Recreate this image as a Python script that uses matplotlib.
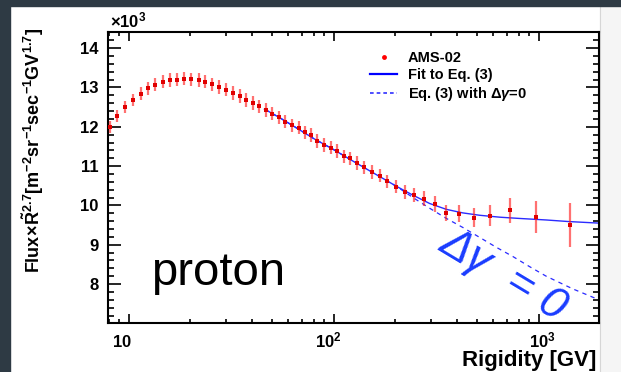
import numpy as np
import matplotlib
matplotlib.use("Agg")
import matplotlib.pyplot as plt
import matplotlib.transforms as mtransforms
from matplotlib.lines import Line2D
from matplotlib.ticker import LogLocator, MultipleLocator, NullFormatter

plt.rcParams["font.family"] = ["Liberation Sans", "DejaVu Sans"]
plt.rcParams["font.weight"] = "bold"
plt.rcParams["mathtext.fontset"] = "custom"
plt.rcParams["mathtext.rm"] = "Liberation Sans"
plt.rcParams["mathtext.bf"] = "Liberation Sans:bold"
plt.rcParams["mathtext.it"] = "Liberation Sans:italic"

# AMS-02 proton flux x R^2.7 (units of 10^3)
rigidity = [8.08, 8.81, 9.61, 10.5, 11.44, 12.42, 13.5, 14.68, 15.94, 17.24,
            18.61, 20.22, 21.95, 23.67, 25.63, 27.73, 29.96, 32.27, 34.79, 37.52,
            40.27, 43.21, 46.6, 50.2, 54.1, 58.1, 62.6, 67.5, 72.6, 77.8,
            83.3, 89.6, 96.7, 104, 112.3, 120.6, 130.2, 140.5, 153.8, 167.7,
            182.4, 202.2, 221.9, 246.4, 274.8, 311, 354.6, 408.5, 481.8, 583,
            727.8, 967, 1428]
flux = [12.00, 12.27, 12.50, 12.68, 12.84, 12.98, 13.07, 13.15, 13.19, 13.20,
        13.22, 13.21, 13.19, 13.15, 13.08, 13.01, 12.94, 12.86, 12.78, 12.68,
        12.60, 12.52, 12.43, 12.33, 12.24, 12.13, 12.04, 11.98, 11.86, 11.79,
        11.64, 11.54, 11.47, 11.38, 11.25, 11.20, 11.08, 10.97, 10.85, 10.76,
        10.61, 10.48, 10.34, 10.26, 10.17, 10.04, 9.81, 9.79, 9.69, 9.74,
        9.88, 9.71, 9.49]
flux_err = [0.15, 0.15, 0.16, 0.16, 0.16, 0.16, 0.17, 0.17, 0.17, 0.17,
            0.17, 0.17, 0.17, 0.17, 0.17, 0.17, 0.17, 0.17, 0.17, 0.17,
            0.17, 0.17, 0.17, 0.17, 0.17, 0.17, 0.17, 0.17, 0.17, 0.17,
            0.17, 0.17, 0.17, 0.17, 0.17, 0.17, 0.17, 0.17, 0.17, 0.17,
            0.17, 0.17, 0.18, 0.18, 0.19, 0.20, 0.21, 0.22, 0.24, 0.27,
            0.32, 0.41, 0.56]

# fit to Eq. (3)
fit_R = [46, 55, 65, 80, 100, 125, 150, 175, 202, 244, 294, 355, 427, 515,
         650, 800, 1090, 1400, 1973]
fit_flux = [12.45, 12.22, 11.99, 11.70, 11.42, 11.12, 10.88, 10.68, 10.49,
            10.26, 10.05, 9.90, 9.81, 9.75, 9.70, 9.67, 9.63, 9.59, 9.55]

# Eq. (3) with delta gamma = 0
nobreak_R = [46, 55, 65, 80, 100, 125, 150, 175, 202, 244, 294, 355, 427,
             515, 620, 750, 900, 1090, 1466, 1973]
nobreak_flux = [12.45, 12.22, 11.99, 11.70, 11.42, 11.12, 10.88, 10.68, 10.49,
                10.20, 9.93, 9.67, 9.44, 9.19, 8.94, 8.70, 8.45, 8.20, 7.88, 7.60]

xtick_vals = [10, 100, 1000]
xtick_text = [r"$\mathbf{10}$", r"$\mathbf{10^{2}}$", r"$\mathbf{10^{3}}$"]
xtick_shift = [-4.7, -4.0, 2.5]  # points
ytick_vals = [8, 9, 10, 11, 12, 13, 14]

W, H = 621, 372
fig = plt.figure(figsize=(W / 100, H / 100), dpi=100)
fig.patch.set_facecolor("white")

# slide background bits around the picture
dark = "#2e3a44"
fig.add_artist(plt.Rectangle((600 / W, 0), 21 / W, 1, transform=fig.transFigure,
                             color="#f5f5f5", zorder=-10))
fig.add_artist(Line2D([600 / W, 600 / W], [0, 1], transform=fig.transFigure,
                      color="#d6d6d6", lw=0.8, zorder=-9))
fig.add_artist(plt.Rectangle((0, 0), 10 / W, 1, transform=fig.transFigure,
                             color=dark, zorder=-8))
fig.add_artist(plt.Rectangle((0, 1 - 6 / H), 1, 6 / H, transform=fig.transFigure,
                             color=dark, zorder=-8))

ax = fig.add_axes([108 / W, 1 - 323 / H, 491 / W, 291 / H])
ax.set_facecolor("none")

ax.errorbar(rigidity, flux, yerr=flux_err, fmt="s", ms=2.3, mew=0, color="#e00000",
            ecolor=(1, 0.1, 0.1, 0.62), elinewidth=1.6, capsize=0, zorder=3)
ax.plot(nobreak_R, nobreak_flux, color="#2b2bff", lw=0.9, ls=(0, (3.5, 3.5)), zorder=2)
ax.plot(fit_R, fit_flux, color="#2b2bff", lw=1.0, zorder=2)

ax.set_xscale("log")
ax.set_xlim(7.93, 1973)
ax.set_ylim(7.01, 14.41)

ax.set_xticks(xtick_vals)
ax.xaxis.set_minor_locator(LogLocator(base=10, subs=np.arange(2, 10)))
ax.xaxis.set_minor_formatter(NullFormatter())
ax.set_xticklabels([])
ax.set_yticks(ytick_vals)
ax.yaxis.set_minor_locator(MultipleLocator(0.2))

for s in ax.spines.values():
    s.set_linewidth(1.5)
ax.tick_params(which="both", direction="in", top=True, right=True, width=1.2,
               colors="black")
ax.tick_params(axis="y", which="major", length=9.4, labelsize=12, pad=7)
ax.tick_params(axis="y", which="minor", length=4.4)
ax.tick_params(axis="x", which="major", length=6.2)
ax.tick_params(axis="x", which="minor", length=3.2)

blend = mtransforms.blended_transform_factory(ax.transData, ax.transAxes)
for xv, txt, dx in zip(xtick_vals, xtick_text, xtick_shift):
    tr = mtransforms.offset_copy(blend, fig=fig, x=dx, y=-17.6, units="points")
    ax.text(xv, 0, txt, transform=tr, ha="center", va="baseline", fontsize=12)

fig.text(33 / W, 1 - 28 / H,
         r"$\mathbf{Flux}\!\times\!\mathbf{\tilde{R}^{2.7}[m^{-2}sr^{-1}sec^{-1}GV^{1.7}]}$",
         rotation=90, ha="center", va="top", fontsize=13)
fig.text(110 / W, 1 - 27 / H, r"$\times\mathbf{10^{3}}$", ha="left",
         va="baseline", fontsize=12)
fig.text(596 / W, 1 - 366 / H, "Rigidity [GV]", ha="right", va="baseline",
         fontsize=16)

fig.text(151 / W, 1 - 285 / H, "proton", ha="left", va="baseline", fontsize=34,
         weight="normal")
fig.text(503 / W, 1 - 275 / H, "Δγ  = 0", ha="center", va="center", fontsize=32,
         weight="normal", style="italic", color="#1a3cff", rotation=-31,
         rotation_mode="anchor")

handles = [
    Line2D([], [], marker="o", ms=3.5, mew=0, color="red", ls="none"),
    Line2D([], [], color="#0000ff", lw=1.6),
    Line2D([], [], color="#3030ff", lw=1.2, ls=(0, (2.2, 1.8))),
]
labels = ["AMS-02", "Fit to Eq. (3)", r"Eq. (3) with $\Delta\gamma$=0"]
ax.legend(handles, labels, loc="upper left", bbox_to_anchor=(0.534, 0.935),
          frameon=False, borderaxespad=0, borderpad=0, handlelength=1.85,
          handletextpad=0.75, labelspacing=0.2,
          prop={"weight": "bold", "size": 10.5})

fig.savefig("out.png", dpi=100)
